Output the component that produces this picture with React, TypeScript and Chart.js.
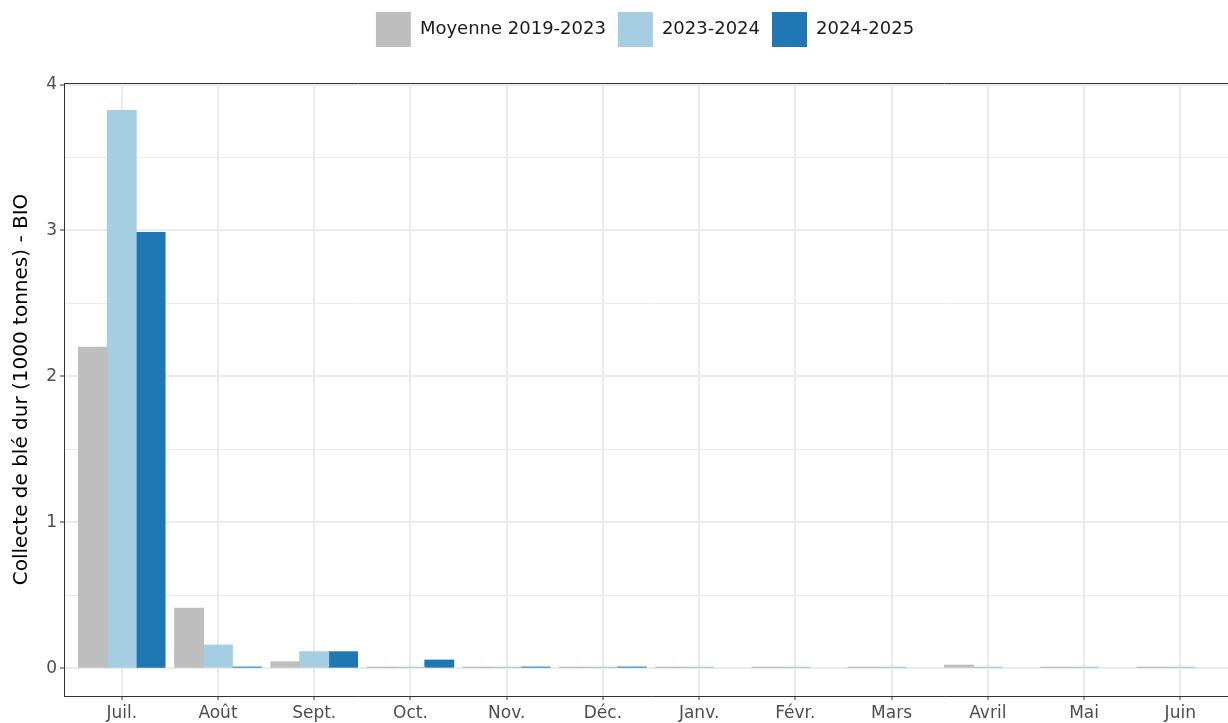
import React, { useEffect, useRef } from "react";
import { Chart, registerables } from "chart.js";
Chart.register(...registerables);

const months = ["Juil.", "Août", "Sept.", "Oct.", "Nov.", "Déc.", "Janv.", "Févr.", "Mars", "Avril", "Mai", "Juin"];
const moyenne = [2.2, 0.411, 0.043, 0.005, 0.005, 0.005, 0.005, 0.005, 0.005, 0.02, 0.005, 0.005];
const s2023 = [3.822, 0.158, 0.112, 0.005, 0.005, 0.005, 0.005, 0.005, 0.005, 0.005, 0.005, 0.005];
const s2024: (number | null)[] = [2.986, 0.007, 0.112, 0.055, 0.007, 0.007, null, null, null, null, null, null];
const yTickValues = [0, 0.5, 1, 1.5, 2, 2.5, 3, 3.5, 4];
const seriesNames = ["Moyenne 2019-2023", "2023-2024", "2024-2025"];
const seriesColors = ["#BEBEBE", "#A6CEE3", "#1F78B4"];

const FONT = "'DejaVu Sans', sans-serif";

const toPoints = (arr: (number | null)[]) => arr.map((v, i) => ({ x: i, y: v }));

const panelTop = {
  id: "panelTop",
  afterDraw(chart: any) {
    const { ctx, chartArea } = chart;
    ctx.save();
    ctx.strokeStyle = "#333333";
    ctx.lineWidth = 1;
    const y = Math.round(chartArea.top) + 0.5;
    ctx.beginPath();
    ctx.moveTo(chartArea.left, y);
    ctx.lineTo(chartArea.right, y);
    ctx.stroke();
    ctx.restore();
  },
};

const legendSpace = {
  id: "legendSpace",
  beforeInit(chart: any) {
    const legend = chart.legend;
    if (!legend) return;
    const origFit = legend.fit;
    legend.fit = function () {
      origFit.call(this);
      this.height += 26;
    };
  },
  afterLayout(chart: any) {
    const legend = chart.legend;
    if (!legend) return;
    legend.left = 52;
    legend.right = 1238;
  },
};

export default function App() {
  const ref = useRef<HTMLCanvasElement>(null);
  useEffect(() => {
    if (!ref.current) return;
    const isMajor = (v: number) => Math.abs(v - Math.round(v)) < 1e-9;
    const chart = new Chart(ref.current, {
      type: "bar",
      data: {
        datasets: [moyenne, s2023, s2024].map((d, i) => ({
          label: seriesNames[i],
          data: toPoints(d) as any,
          backgroundColor: seriesColors[i],
          borderColor: seriesColors[i],
          borderWidth: 0,
          inflateAmount: 0.5,
          categoryPercentage: 0.9,
          barPercentage: 1.0,
          grouped: true,
        })),
      },
      options: {
        animation: false,
        responsive: true,
        maintainAspectRatio: false,
        layout: { padding: { left: 0, right: 12, top: 0, bottom: 0 } },
        plugins: {
          legend: {
            position: "top",
            labels: {
              boxWidth: 35,
              boxHeight: 35,
              padding: 12,
              color: "#1A1A1A",
              font: { family: FONT, size: 18 },
            },
          },
          tooltip: { enabled: false },
        },
        scales: {
          x: {
            type: "linear",
            offset: false,
            min: -0.6,
            max: 11.6,
            afterBuildTicks: (scale: any) => {
              scale.ticks = months.map((_, i) => ({ value: i }));
            },
            afterFit: (scale: any) => {
              scale.height = 27;
            },
            ticks: {
              autoSkip: false,
              maxRotation: 0,
              padding: 3,
              color: "#4D4D4D",
              font: { family: FONT, size: 17 },
              callback: (v: any) => months[Math.round(Number(v))] ?? "",
            },
            grid: {
              offset: false,
              color: "#EBEBEB",
              lineWidth: 2,
              tickLength: 4,
              tickColor: "#333333",
              tickWidth: 1,
            },
            border: { display: true, color: "#333333", width: 1 },
          },
          y: {
            type: "linear",
            min: -0.191,
            max: 4.011,
            afterBuildTicks: (scale: any) => {
              scale.ticks = yTickValues.map((v) => ({ value: v }));
            },
            afterFit: (scale: any) => {
              scale.width = 64;
            },
            ticks: {
              padding: 3,
              color: "#4D4D4D",
              font: { family: FONT, size: 17 },
              callback: (v: any) => (isMajor(Number(v)) ? String(Math.round(Number(v))) : ""),
            },
            grid: {
              color: "#EBEBEB",
              lineWidth: (ctx: any) => (isMajor(ctx.tick?.value ?? 0) ? 2 : 1),
              tickLength: 4,
              tickColor: (ctx: any) => (isMajor(ctx.tick?.value ?? 0) ? "#333333" : "rgba(0,0,0,0)"),
              tickWidth: 1,
            },
            border: { display: true, color: "#333333", width: 1 },
            title: {
              display: true,
              text: "Collecte de blé dur (1000 tonnes) - BIO",
              color: "#000000",
              font: { family: FONT, size: 20 },
              padding: { top: 10, bottom: 0 },
            },
          },
        },
      },
      plugins: [panelTop, legendSpace],
    });
    return () => chart.destroy();
  }, []);
  return (
    <div style={{ position: "fixed", left: 0, top: 0, width: 1250, height: 723 }}>
      <canvas ref={ref} />
    </div>
  );
}
